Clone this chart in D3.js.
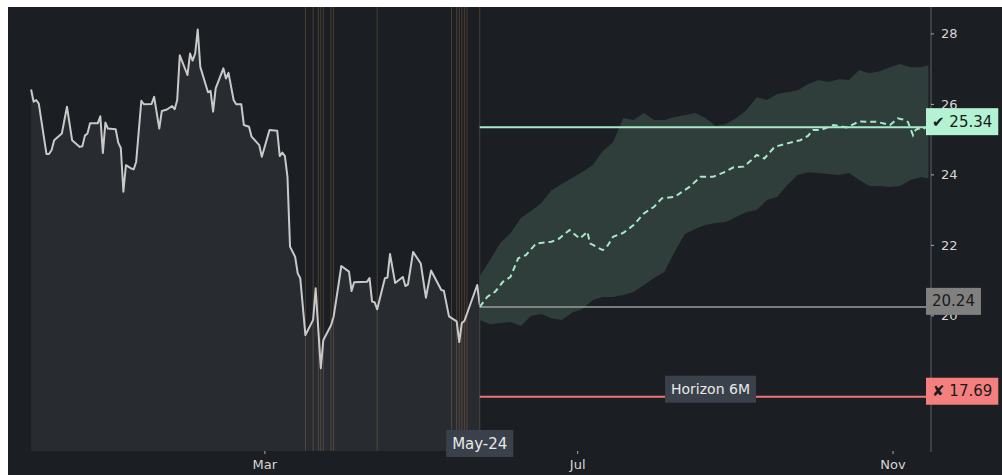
<!DOCTYPE html>
<html>
<head>
<meta charset="utf-8">
<script src="https://cdn.jsdelivr.net/npm/d3@7"></script>
<style>
  body { margin: 0; background: #fff; }
  #chart { position: absolute; left: 8px; top: 7px; }
  text { font-family: "DejaVu Sans", sans-serif; }
</style>
</head>
<body>
<div id="chart"></div>
<script>
// historical closes
const histDates = ["2023-12-01","2023-12-02","2023-12-03","2023-12-04","2023-12-07","2023-12-08","2023-12-09","2023-12-10","2023-12-13","2023-12-15","2023-12-17","2023-12-20","2023-12-21","2023-12-22","2023-12-23","2023-12-24","2023-12-27","2023-12-28","2023-12-29","2023-12-30","2023-12-31","2024-01-03","2024-01-04","2024-01-05","2024-01-06","2024-01-07","2024-01-09","2024-01-10","2024-01-11","2024-01-13","2024-01-14","2024-01-17","2024-01-18","2024-01-20","2024-01-21","2024-01-23","2024-01-25","2024-01-26","2024-01-27","2024-01-28","2024-01-31","2024-02-01","2024-02-02","2024-02-03","2024-02-04","2024-02-05","2024-02-08","2024-02-09","2024-02-10","2024-02-11","2024-02-14","2024-02-15","2024-02-16","2024-02-18","2024-02-19","2024-02-21","2024-02-22","2024-02-24","2024-02-25","2024-02-28","2024-02-29","2024-03-03","2024-03-06","2024-03-07","2024-03-08","2024-03-09","2024-03-10","2024-03-11","2024-03-13","2024-03-14","2024-03-15","2024-03-17","2024-03-20","2024-03-21","2024-03-23","2024-03-24","2024-03-27","2024-03-28","2024-03-30","2024-03-31","2024-04-03","2024-04-04","2024-04-05","2024-04-10","2024-04-11","2024-04-12","2024-04-13","2024-04-14","2024-04-17","2024-04-18","2024-04-19","2024-04-21","2024-04-24","2024-04-25","2024-04-26","2024-04-28","2024-05-01","2024-05-03","2024-05-05","2024-05-09","2024-05-10","2024-05-12","2024-05-15","2024-05-16","2024-05-17","2024-05-18","2024-05-23","2024-05-24"];
const histValues = [26.41,26.06,26.11,26.01,24.58,24.58,24.69,24.97,25.16,25.92,24.97,24.78,24.80,25.10,25.16,25.45,25.45,25.65,24.61,25.47,25.30,25.28,24.90,24.75,23.51,24.26,24.17,24.14,24.36,26.09,25.99,26.00,26.20,25.30,25.80,25.84,25.94,25.85,26.11,27.38,26.82,27.43,27.23,27.43,28.11,27.05,26.33,26.37,25.78,26.44,27.01,26.72,26.88,26.11,25.99,25.99,25.40,25.35,25.07,24.83,24.50,25.26,25.24,24.52,24.62,24.52,23.93,21.95,21.66,21.19,21.05,19.44,19.87,20.77,18.50,19.30,19.72,19.96,20.91,21.40,21.24,20.69,20.94,20.95,21.06,20.39,20.37,20.17,21.05,21.07,21.74,20.92,21.09,20.83,20.88,21.80,21.47,20.50,21.27,20.72,20.70,19.97,19.83,19.24,19.78,19.84,20.86,20.30];

// event markers
const eventDates = ["2024-03-17","2024-03-20","2024-03-22","2024-03-23","2024-03-24","2024-03-27","2024-03-28","2024-04-14","2024-05-13","2024-05-15","2024-05-16","2024-05-17","2024-05-18","2024-05-19","2024-05-24"];

// forecast band
const bandDates = ["2024-05-24","2024-05-28","2024-06-01","2024-06-05","2024-06-09","2024-06-13","2024-06-17","2024-06-21","2024-06-25","2024-06-29","2024-07-03","2024-07-07","2024-07-11","2024-07-15","2024-07-19","2024-07-23","2024-07-27","2024-07-31","2024-08-04","2024-08-08","2024-08-12","2024-08-16","2024-08-20","2024-08-24","2024-08-28","2024-09-01","2024-09-05","2024-09-09","2024-09-13","2024-09-17","2024-09-21","2024-09-25","2024-09-29","2024-10-03","2024-10-07","2024-10-11","2024-10-15","2024-10-19","2024-10-23","2024-10-27","2024-10-31","2024-11-04","2024-11-08","2024-11-12","2024-11-15"];
const bandUpper = [21.11,21.57,22.05,22.33,22.76,22.96,23.19,23.55,23.73,23.90,24.07,24.26,24.66,24.92,25.60,25.54,25.74,25.54,25.54,25.63,25.68,25.74,25.60,25.37,25.43,25.60,25.82,26.19,26.11,26.28,26.33,26.39,26.56,26.68,26.62,26.70,26.68,26.96,26.87,26.93,27.04,27.13,27.04,27.04,27.10];
const bandLower = [19.87,19.75,19.78,19.81,19.70,19.98,20.04,19.92,19.87,20.07,20.18,20.43,20.52,20.52,20.58,20.66,20.86,21.06,21.23,21.80,22.31,22.45,22.56,22.62,22.65,22.79,22.93,22.99,23.27,23.36,23.70,23.98,24.06,24.04,24.01,23.98,24.04,23.84,23.67,23.67,23.64,23.67,23.84,23.92,23.89];

// forecast median
const medianDates = ["2024-05-24","2024-05-27","2024-05-30","2024-06-02","2024-06-05","2024-06-08","2024-06-11","2024-06-15","2024-06-21","2024-06-24","2024-06-28","2024-07-02","2024-07-05","2024-07-06","2024-07-11","2024-07-13","2024-07-15","2024-07-19","2024-07-23","2024-07-27","2024-07-31","2024-08-03","2024-08-08","2024-08-11","2024-08-14","2024-08-18","2024-08-23","2024-08-27","2024-08-31","2024-09-04","2024-09-07","2024-09-09","2024-09-12","2024-09-16","2024-09-21","2024-09-26","2024-09-29","2024-10-01","2024-10-04","2024-10-09","2024-10-14","2024-10-19","2024-10-26","2024-10-31","2024-11-03","2024-11-05","2024-11-07","2024-11-09","2024-11-10","2024-11-11","2024-11-13","2024-11-15"];
const medianValues = [20.24,20.53,20.67,20.95,21.09,21.62,21.71,22.04,22.09,22.18,22.42,22.18,22.37,22.04,21.85,21.99,22.23,22.34,22.56,22.89,23.08,23.32,23.36,23.51,23.65,23.93,23.93,24.05,24.20,24.22,24.41,24.55,24.45,24.78,24.88,24.97,25.09,25.26,25.26,25.40,25.33,25.50,25.49,25.40,25.59,25.56,25.49,25.11,25.26,25.30,25.28,25.40];

// levels: target, current, stop
const levelValues = [25.34, 20.24, 17.69];
const levelLabels = ["\u2714 25.34", "20.24", "\u2718 17.69"];

const yTicks = [20, 22, 24, 26, 28];
const xTicks = ["2024-03-01", "2024-07-01", "2024-11-01"];
const forecastStart = "2024-05-24";
const horizonLabelDate = "2024-08-22";
const horizonText = "Horizon 6M";
const startLabel = "May-24";

const parse = d3.timeParse("%Y-%m-%d");
const width = 994, height = 468;
const plotW = 923, plotH = 444;

const svg = d3.select("#chart").append("svg")
    .attr("width", width)
    .attr("height", height)
    .style("display", "block");

svg.append("rect").attr("width", width).attr("height", height).attr("fill", "#1b1e22");

const x = d3.scaleTime()
    .domain([parse("2023-11-22"), parse("2024-11-16")])
    .range([0, plotW]);

const y = d3.scaleLinear()
    .domain([16.15, 28.75])
    .range([plotH, 0]);

const hist = histDates.map((d, i) => ({date: parse(d), v: histValues[i]}));
const band = bandDates.map((d, i) => ({date: parse(d), hi: bandUpper[i], lo: bandLower[i]}));
const median = medianDates.map((d, i) => ({date: parse(d), v: medianValues[i]}));

// area under history
svg.append("path")
    .datum(hist)
    .attr("fill", "#282b30")
    .attr("d", d3.area().x(d => x(d.date)).y0(plotH).y1(d => y(d.v)));

// event markers
svg.selectAll(".event")
    .data(eventDates)
    .enter().append("line")
    .attr("x1", d => x(parse(d)))
    .attr("x2", d => x(parse(d)))
    .attr("y1", 0)
    .attr("y2", plotH)
    .attr("stroke", "rgba(205,150,100,0.28)")
    .attr("stroke-width", 1);

// history line
svg.append("path")
    .datum(hist)
    .attr("fill", "none")
    .attr("stroke", "#c9c9c9")
    .attr("stroke-width", 2)
    .attr("stroke-linejoin", "round")
    .attr("d", d3.line().x(d => x(d.date)).y(d => y(d.v)));

// forecast band
svg.append("path")
    .datum(band)
    .attr("fill", "#30403d")
    .attr("fill-opacity", 0.95)
    .attr("d", d3.area().x(d => x(d.date)).y0(d => y(d.lo)).y1(d => y(d.hi)));

// level lines
const levelColors = ["#a8ebc8", "#9c9c9c", "#f07474"];
const tagFills = ["#b3f2d2", "#808080", "#f57f7f"];
const x0 = x(parse(forecastStart));
levelValues.forEach((v, i) => {
    svg.append("line")
        .attr("x1", x0).attr("x2", plotW)
        .attr("y1", y(v)).attr("y2", y(v))
        .attr("stroke", levelColors[i])
        .attr("stroke-width", i === 1 ? 1.5 : 2);
});

// median path
svg.append("path")
    .datum(median)
    .attr("fill", "none")
    .attr("stroke", "#a6e9c8")
    .attr("stroke-width", 2)
    .attr("stroke-dasharray", "6,4")
    .attr("d", d3.line().x(d => x(d.date)).y(d => y(d.v)));

// right axis
const yAxis = svg.append("g")
    .attr("transform", `translate(${plotW},0)`)
    .call(d3.axisRight(y).tickValues(yTicks).tickSize(3).tickPadding(7).tickFormat(d3.format("d")));
yAxis.select(".domain").attr("stroke", "#5d636b").attr("d", `M0,0V${plotH + 1}`);
yAxis.selectAll(".tick line").attr("stroke", "#aaaaaa");
yAxis.selectAll(".tick text").attr("fill", "#d6d6d6").style("font-size", "13px");

// bottom axis
const xAxis = svg.append("g")
    .attr("transform", `translate(0,${plotH})`)
    .call(d3.axisBottom(x).tickValues(xTicks.map(parse)).tickSize(3).tickPadding(6).tickFormat(d3.timeFormat("%b")));
xAxis.select(".domain").remove();
xAxis.selectAll(".tick line").attr("stroke", "#aaaaaa");
xAxis.selectAll(".tick text").attr("fill", "#d6d6d6").style("font-size", "13px");

// boxed label helper
function boxLabel(cx, cy, text, fill, color, size, anchor) {
    const g = svg.append("g");
    const t = g.append("text")
        .attr("y", cy)
        .attr("dominant-baseline", "central")
        .attr("fill", color)
        .style("font-size", size + "px")
        .text(text);
    const w = t.node().getComputedTextLength() + 12;
    const left = anchor === "start" ? cx : cx - w / 2;
    t.attr("x", left + 6);
    g.insert("rect", "text")
        .attr("x", left).attr("y", cy - 13.5)
        .attr("width", w).attr("height", 27)
        .attr("fill", fill);
}

levelValues.forEach((v, i) => {
    boxLabel(plotW - 5, y(v) - 5.5, levelLabels[i], tagFills[i], "#1a1a1a", 15, "start");
});

boxLabel(x(parse(horizonLabelDate)), y(levelValues[2]) - 7.5, horizonText, "#3a414a", "#e8e8e8", 14, "middle");
boxLabel(x0, plotH - 7.5, startLabel, "#3a414a", "#e8e8e8", 15, "middle");
</script>
</body>
</html>
